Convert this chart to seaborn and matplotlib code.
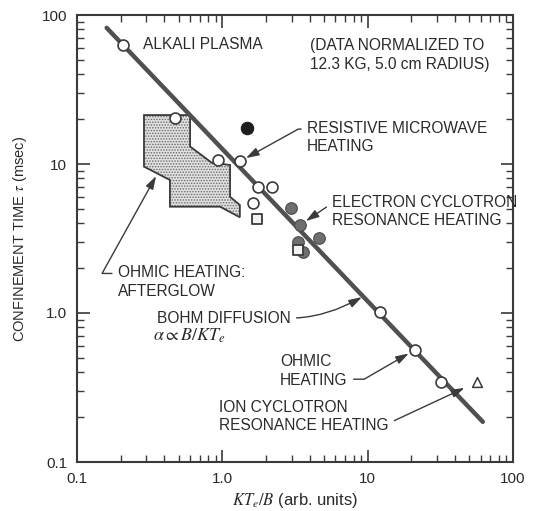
import numpy as np
import matplotlib
matplotlib.use("Agg")
import matplotlib.pyplot as plt
import seaborn as sns

# Bohm diffusion line (end points)
bohm_x = [0.16, 62.0]
bohm_tau = [82.0, 0.186]

# open circles
open_x = [0.206, 0.473, 0.94, 1.32, 1.77, 2.19, 1.62, 12.2, 21.1, 32.0]
open_tau = [63.0, 20.3, 10.6, 10.4, 6.98, 6.98, 5.5, 1.02, 0.565, 0.344]
# solid black point
solid_x = [1.47]
solid_tau = [17.4]
# electron cyclotron resonance heating (gray points)
ecrh_x = [2.96, 3.43, 4.65, 3.34, 3.61]
ecrh_tau = [5.04, 3.9, 3.17, 3.01, 2.58]
# small square markers
square_x = [1.73, 3.34]
square_tau = [4.25, 2.65]
# ion cyclotron resonance heating (triangle)
icrh_x = [56.6]
icrh_tau = [0.344]
# ohmic heating afterglow region
afterglow_x = [0.289, 0.60, 0.60, 0.845, 1.13, 1.13, 1.32, 1.32, 0.964, 0.436, 0.436, 0.289]
afterglow_tau = [21.3, 21.3, 13.1, 10.2, 9.85, 6.03, 5.3, 4.39, 5.17, 5.17, 7.81, 9.6]

ticks = [0.1, 1.0, 10, 100]
tick_labels = ["0.1", "1.0", "10", "100"]

ink = "#3a3a3a"

sns.set_style("ticks")
plt.rcParams["font.family"] = ["Liberation Sans", "DejaVu Sans"]
plt.rcParams["mathtext.fontset"] = "stix"
plt.rcParams["hatch.linewidth"] = 0.7
plt.rcParams["hatch.color"] = "#6a6a6a"

fig = plt.figure(figsize=(5.42, 5.11), dpi=100)
ax = fig.add_axes([77 / 542, 1 - 462 / 511, 436 / 542, 447 / 511])
ax.set_xscale("log")
ax.set_yscale("log")

# afterglow region: stippled fill plus outline
ax.fill(afterglow_x, afterglow_tau, facecolor="#e0e0e0", edgecolor="#6a6a6a",
        hatch="......", linewidth=0, zorder=1)
ax.fill(afterglow_x, afterglow_tau, facecolor="none", edgecolor=ink,
        linewidth=1.3, zorder=2)

sns.lineplot(x=bohm_x, y=bohm_tau, color="#505050", linewidth=3.2, ax=ax, zorder=3)

sns.scatterplot(x=open_x, y=open_tau, marker="o", s=62, color="white",
                edgecolor=ink, linewidth=1.2, ax=ax, zorder=5)
sns.scatterplot(x=solid_x, y=solid_tau, marker="o", s=80, color="#1e1e1e",
                edgecolor="#1e1e1e", linewidth=0.8, ax=ax, zorder=5)
sns.scatterplot(x=ecrh_x, y=ecrh_tau, marker="o", s=70, color="#6e6e6e",
                edgecolor="#4a4a4a", linewidth=0.8, ax=ax, zorder=5)
sns.scatterplot(x=square_x, y=square_tau, marker="s", s=48, color="#f2f2f2",
                edgecolor=ink, linewidth=1.3, ax=ax, zorder=6)
sns.scatterplot(x=icrh_x, y=icrh_tau, marker="^", s=50, color="white",
                edgecolor=ink, linewidth=1.1, ax=ax, zorder=5)

ax.set_xlim(0.1, 100)
ax.set_ylim(0.1, 100)
ax.set_xticks(ticks, tick_labels)
ax.set_yticks(ticks, tick_labels)
ax.tick_params(which="both", direction="in", top=True, right=True, colors=ink,
               labelcolor="#2a2a2a", labelsize=11)
ax.tick_params(which="major", length=9, width=1.2, pad=7)
ax.tick_params(which="minor", length=5, width=1.0)
for sp in ax.spines.values():
    sp.set_color(ink)
    sp.set_linewidth(1.5)

ax.set_xlabel(r"$KT_e/B$ (arb. units)", fontsize=12, color="#2a2a2a", labelpad=4)
ax.set_ylabel(r"CONFINEMENT TIME $\tau$ (msec)", fontsize=10.5, color="#2a2a2a", labelpad=9)

txt = dict(fontsize=11.2, color="#2a2a2a", va="center", ha="left", linespacing=1.3)
arrow = dict(arrowstyle="-|>,head_length=0.7,head_width=0.22", color=ink, lw=1.0,
             shrinkA=2, shrinkB=5)

ax.text(0.151, 0.933, "ALKALI PLASMA", transform=ax.transAxes, **txt)
ax.text(0.534, 0.911, "(DATA NORMALIZED TO\n12.3 KG, 5.0 cm RADIUS)",
        transform=ax.transAxes, **txt)
ax.text(0.174, 0.282, r"$\alpha \propto B/KT_e$", transform=ax.transAxes,
        fontsize=13, color="#2a2a2a", va="center", ha="left")

ax.annotate("RESISTIVE MICROWAVE\nHEATING", xy=(open_x[3], open_tau[3]),
            xytext=(0.528, 0.726), textcoords="axes fraction", **txt,
            arrowprops=dict(arrow, relpos=(0, 0.75),
                            connectionstyle="angle,angleA=0,angleB=29,rad=0"))
ax.annotate("ELECTRON CYCLOTRON\nRESONANCE HEATING", xy=(ecrh_x[1], ecrh_tau[1]),
            xytext=(0.585, 0.560), textcoords="axes fraction", **txt,
            arrowprops=dict(arrow, relpos=(0, 0.75)))
ax.annotate("OHMIC HEATING:\nAFTERGLOW", xy=(0.35, 8.3),
            xytext=(0.094, 0.403), textcoords="axes fraction", **txt,
            arrowprops=dict(arrow, relpos=(0, 0.75), shrinkB=0,
                            connectionstyle="angle,angleA=0,angleB=61,rad=0"))

# point on the Bohm line where its label arrow lands
lx, ly = np.log10(bohm_x), np.log10(bohm_tau)
bohm_tip_x = 9.3
bohm_tip_tau = 10 ** (ly[0] + (np.log10(bohm_tip_x) - lx[0]) * (ly[1] - ly[0]) / (lx[1] - lx[0]))
ax.annotate("BOHM DIFFUSION", xy=(bohm_tip_x, bohm_tip_tau),
            xytext=(0.183, 0.322), textcoords="axes fraction", **txt,
            arrowprops=dict(arrow, relpos=(1, 0.5), shrinkB=1,
                            connectionstyle="angle3,angleA=0,angleB=30"))
ax.annotate("OHMIC\nHEATING", xy=(open_x[8], open_tau[8]),
            xytext=(0.466, 0.204), textcoords="axes fraction", **txt,
            arrowprops=dict(arrow, relpos=(1, 0.25),
                            connectionstyle="angle,angleA=0,angleB=30,rad=0"))
ax.annotate("ION CYCLOTRON\nRESONANCE HEATING", xy=(icrh_x[0], icrh_tau[0]),
            xytext=(0.326, 0.102), textcoords="axes fraction", **txt,
            arrowprops=dict(arrow, relpos=(1, 0.25), shrinkB=10,
                            connectionstyle="angle,angleA=0,angleB=25,rad=0"))

fig.savefig("out.png", dpi=100)
